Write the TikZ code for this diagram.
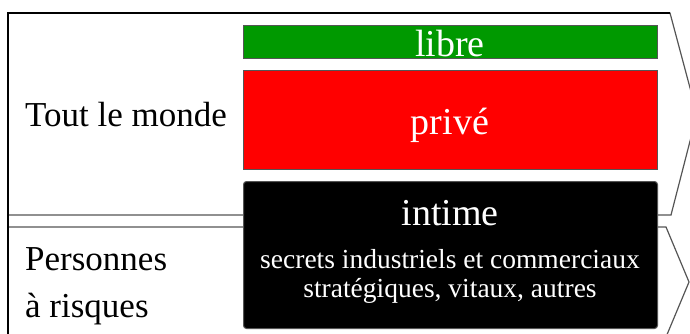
\documentclass[tikz,border=0pt]{standalone}
\usepackage{fontspec}
\setmainfont{Liberation Serif}
\definecolor{libregreen}{HTML}{009900}
\definecolor{edgegray}{HTML}{555555}

\begin{document}
\begin{tikzpicture}[x=1pt,y=-1pt,
    band/.style={draw=edgegray,line width=1.2pt,fill=white},
    bar/.style={draw=edgegray,line width=1pt,anchor=north west,inner sep=0pt,minimum width=414pt},
    big/.style={text=white,font=\fontsize{38}{40}\selectfont,anchor=base},
    small/.style={text=white,font=\fontsize{27.5}{29}\selectfont,anchor=base,align=center},
    side/.style={font=\fontsize{35}{47}\selectfont,anchor=base west,align=left,inner sep=0pt}]
    \useasboundingbox (0,0) rectangle (690,334);
    \clip (0,0) rectangle (690,334);
    % the two audiences
    \draw [band] (8,13) -- (670,13) -- (697,114) -- (671,215) -- (8,215) -- cycle;
    \draw [band] (8,227) -- (666,227) -- (689,282) -- (666,337) -- (8,337) -- cycle;
    \draw [line width=2.5pt] (8,340) -- (8,13) -- (670,13);
    \node [side] (monde) at (25,127) {Tout le monde};
    \node [side] (risques) at (25,317) {Personnes\\à risques}; % base = last line
    % the three levels
    \node [bar, fill=libregreen, minimum height=33pt] (libre) at (243,25) {};
    \node [bar, fill=red, minimum height=99pt] (prive) at (243,70) {};
    \node [bar, fill=black, rounded corners=3pt, minimum height=147pt] (intime) at (243,181) {};
    \node [big] (libretxt) at (450,57) {libre};
    \node [big] (privetxt) at (450,135) {privé};
    \node [big] (intimetxt) at (450,225) {intime};
    \node [small] (secrets) at (450,297) {secrets industriels et commerciaux\\stratégiques, vitaux, autres};
  \end{tikzpicture}
\end{document}
